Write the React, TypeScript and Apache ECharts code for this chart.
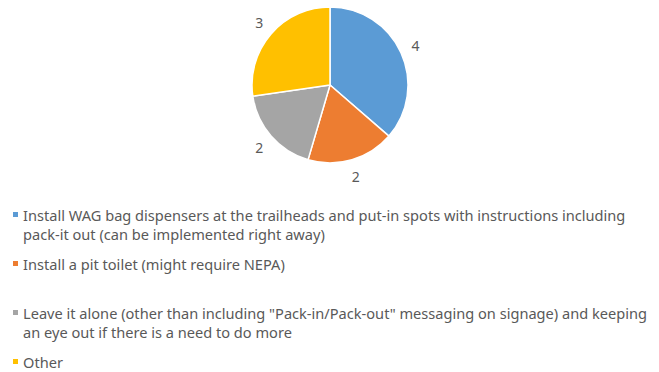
import React, { useEffect, useRef } from "react";
import * as echarts from "echarts";

const categories = [
  "Install WAG bag dispensers at the trailheads and put-in spots with instructions including pack-it out (can be implemented right away)",
  "Install a pit toilet (might require NEPA)",
  'Leave it alone (other than including "Pack-in/Pack-out" messaging on signage) and keeping an eye out if there is a need to do more',
  "Other",
];
const values = [4, 2, 2, 3];
const colors = ["#5B9BD5", "#ED7D31", "#A5A5A5", "#FFC000"];
const legendLines = [
  "Install WAG bag dispensers at the trailheads and put-in spots with instructions including\npack-it out (can be implemented right away)",
  "Install a pit toilet (might require NEPA)\n ",
  'Leave it alone (other than including "Pack-in/Pack-out" messaging on signage) and keeping\nan eye out if there is a need to do more',
  "Other\n ",
];

const ICON = "path://M0,0L5,0M0,7L5,7L5,12L0,12ZM0,38L5,38";

export default function App() {
  const ref = useRef<HTMLDivElement>(null);
  useEffect(() => {
    if (!ref.current) return;
    const chart = echarts.init(ref.current, undefined, { renderer: "svg" });
    chart.setOption({
      animation: false,
      textStyle: { fontFamily: "Noto Sans" },
      legend: {
        orient: "vertical",
        left: 13,
        top: 205,
        height: 300,
        padding: 0,
        itemWidth: 5,
        itemHeight: 38,
        itemGap: 11,
        icon: ICON,
        itemStyle: { borderWidth: 0 },
        textStyle: { color: "#595959", fontSize: 14.6, lineHeight: 19, fontFamily: "Noto Sans" },
        formatter: (name: string) => legendLines[categories.indexOf(name)],
        selectedMode: false,
        data: categories,
      },
      series: [
        {
          type: "pie",
          center: [330, 85],
          radius: 78,
          startAngle: 90,
          clockwise: true,
          avoidLabelOverlap: false,
          itemStyle: { borderColor: "#ffffff", borderWidth: 1.5 },
          label: {
            show: true,
            position: "outside",
            formatter: "{c}",
            color: "#595959",
            fontSize: 14,
            fontFamily: "Noto Sans",
            distanceToLabelLine: -5,
          },
          labelLine: { show: false, length: 17, length2: 0 },
          emphasis: { disabled: true },
          data: categories.map((name, i) => ({
            name,
            value: values[i],
            itemStyle: { color: colors[i] },
          })),
        },
      ],
    });
    return () => chart.dispose();
  }, []);
  return (
    <div
      ref={ref}
      style={{ position: "fixed", left: 0, top: 0, width: 659, height: 372, background: "#ffffff" }}
    />
  );
}
